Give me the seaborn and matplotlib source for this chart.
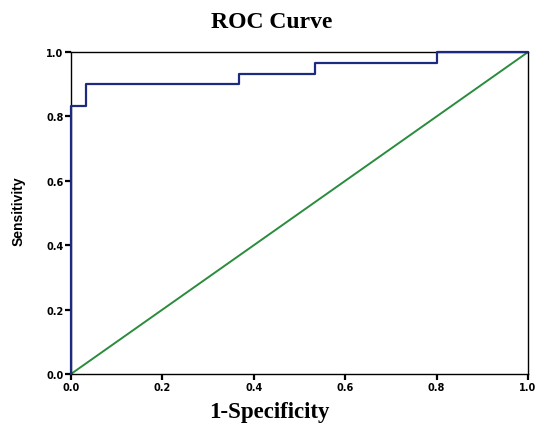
import matplotlib
matplotlib.use("Agg")
import matplotlib.pyplot as plt
import numpy as np
import pandas as pd
import seaborn as sns

# ROC curve points (step function)
fpr = [0.0, 0.0, 0.033, 0.033, 0.367, 0.367, 0.533, 0.533, 0.8, 0.8, 1.0]
tpr = [0.0, 0.833, 0.833, 0.9, 0.9, 0.933, 0.933, 0.967, 0.967, 1.0, 1.0]
ref_line = [0.0, 1.0]
ticks = [0.0, 0.2, 0.4, 0.6, 0.8, 1.0]
tick_labels = ["0.0", "0.2", "0.4", "0.6", "0.8", "1.0"]


def plot_roc() -> None:
    sns.set_style("white")
    plt.rcParams["text.color"] = "black"
    fig = plt.figure(figsize=(5.36, 4.35), dpi=100)
    ax = fig.add_axes([0.1325, 0.138, 0.8526, 0.740])

    roc = pd.DataFrame({"fpr": fpr, "tpr": tpr})
    diag = pd.DataFrame({"x": ref_line, "y": ref_line})
    sns.lineplot(data=diag, x="x", y="y", ax=ax, color="#2a8c3c", linewidth=1.4,
                 clip_on=False)
    sns.lineplot(
        data=roc, x="fpr", y="tpr", ax=ax, color="#1c2a80",
        linewidth=1.6, sort=False, estimator=None, zorder=5, clip_on=False,
    )

    ax.set_xlim(0, 1)
    ax.set_ylim(0, 1)
    for spine in ax.spines.values():
        spine.set_color("black")
        spine.set_linewidth(1.0)
        spine.set_zorder(2)

    ax.set_xticks(ticks)
    ax.set_yticks(ticks)
    ax.set_xticklabels(tick_labels, fontsize=7, fontweight="bold", color="black")
    ax.set_yticklabels(tick_labels, fontsize=7, fontweight="bold", color="black")
    ax.tick_params(direction="out", length=4, width=1.6, color="black",
                   bottom=True, left=True, pad=1.5)

    ax.set_title("ROC Curve", family="Liberation Serif", fontweight="bold",
                 fontsize=17, x=0.44, pad=18, color="black")
    ax.set_xlabel("1-Specificity", family="Liberation Serif",
                  fontweight="bold", fontsize=16.5, color="black")
    ax.xaxis.set_label_coords(0.433, -0.085)
    ax.set_ylabel("Sensitivity", family="Liberation Sans",
                  fontweight="bold", fontsize=10, color="black")
    ax.yaxis.set_label_coords(-0.10, 0.51)

    fig.savefig("out.png", dpi=100)


if __name__ == "__main__":
    plot_roc()
